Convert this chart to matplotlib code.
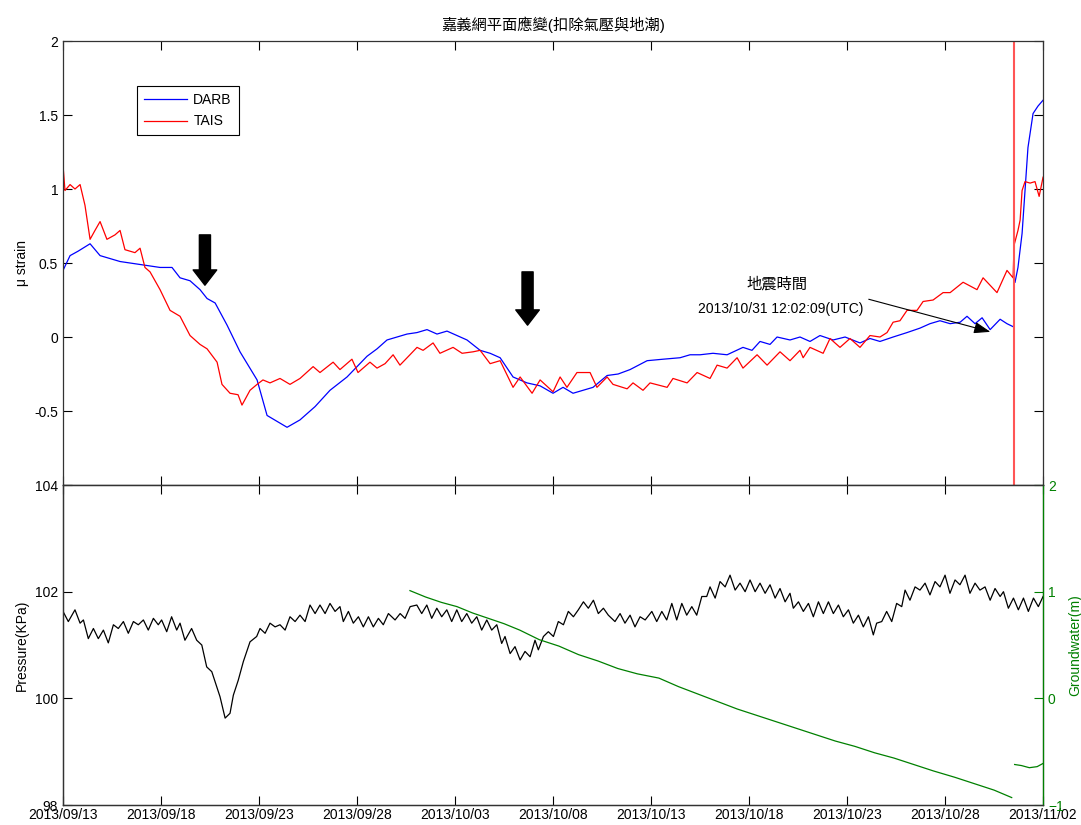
import numpy as np
import matplotlib
matplotlib.use('Agg')
import matplotlib.pyplot as plt
import matplotlib.dates as mdates
from datetime import datetime

plt.rcParams['font.family'] = ['Liberation Sans', 'Noto Sans CJK TC']
plt.rcParams['font.size'] = 10

start = datetime(2013, 9, 13)
quake = datetime(2013, 10, 31, 12, 2, 9)
tick_dates = ['2013/09/13', '2013/09/18', '2013/09/23', '2013/09/28', '2013/10/03',
              '2013/10/08', '2013/10/13', '2013/10/18', '2013/10/23', '2013/10/28',
              '2013/11/02']

# strain, days since 2013/09/13
darb_days = [0, 0.36, 0.77, 1.38, 1.89, 2.40, 2.91, 3.42, 3.93, 4.44, 4.95, 5.56, 5.97,
             6.48, 6.99, 7.35, 7.76, 8.37, 9.03, 9.90, 10.41, 11.43, 12.09, 12.86, 13.62,
             14.49, 15.0, 15.51, 16.02, 16.53, 17.04, 17.55, 18.06, 18.57, 19.08, 19.59,
             20.10, 20.61, 21.28, 21.79, 22.30, 22.96, 23.67, 24.34, 25.0, 25.51, 26.02,
             26.53, 27.04, 27.76, 28.32, 28.93, 29.80, 30.61, 31.48, 31.99, 32.50, 33.16,
             33.88, 34.69, 35.15, 35.56, 36.07, 36.43, 37.09, 37.60, 38.11, 38.62, 39.29,
             39.90, 40.66, 41.17, 41.68, 42.35, 43.06, 43.72, 44.23, 44.74, 45.26, 45.77,
             46.12, 46.53, 46.89, 47.30, 47.81, 48.16, 48.47, 48.52, 48.57, 48.72, 48.93,
             49.08, 49.23, 49.49, 49.74, 50.0]
darb_vals = [0.45, 0.55, 0.58, 0.63, 0.55, 0.53, 0.51, 0.50, 0.49, 0.48, 0.47, 0.47, 0.40,
             0.38, 0.32, 0.26, 0.23, 0.08, -0.10, -0.29, -0.53, -0.61, -0.56, -0.47, -0.36,
             -0.27, -0.20, -0.13, -0.08, -0.02, 0.00, 0.02, 0.03, 0.05, 0.02, 0.04,
             0.01, -0.02, -0.09, -0.11, -0.14, -0.27, -0.31, -0.33, -0.38, -0.34, -0.38,
             -0.36, -0.34, -0.26, -0.25, -0.22, -0.16, -0.15, -0.14, -0.12, -0.12, -0.11,
             -0.12, -0.07, -0.09, -0.03, -0.05, 0.00, -0.02, 0.00, -0.03, 0.01, -0.02,
             0.00, -0.04, -0.01, -0.03, 0.00, 0.03, 0.06, 0.09, 0.11, 0.09, 0.10,
             0.14, 0.09, 0.13, 0.05, 0.12, 0.09, 0.07, np.nan, 0.37, 0.47, 0.70,
             0.99, 1.28, 1.51, 1.56, 1.60]

tais_days = [0, 0.10, 0.36, 0.61, 0.87, 1.12, 1.38, 1.63, 1.89, 2.24, 2.65, 2.91, 3.16,
             3.67, 3.93, 4.18, 4.44, 4.95, 5.46, 5.97, 6.48, 6.99, 7.35, 7.86, 8.11, 8.52,
             8.93, 9.13, 9.54, 9.90, 10.2, 10.56, 11.07, 11.58, 12.09, 12.76, 13.11, 13.78,
             14.13, 14.74, 15.05, 15.66, 16.02, 16.43, 16.84, 17.19, 17.70, 18.06, 18.37,
             18.88, 19.23, 19.90, 20.36, 20.92, 21.28, 21.79, 22.30, 22.96, 23.32, 23.93,
             24.34, 25.0, 25.36, 25.71, 26.22, 26.89, 27.24, 27.76, 28.06, 28.78, 29.08,
             29.59, 29.95, 30.82, 31.12, 31.84, 32.35, 33.01, 33.37, 33.88, 34.39, 34.69,
             35.41, 35.92, 36.58, 37.09, 37.60, 37.76, 38.11, 38.78, 39.13, 39.64, 40.15,
             40.66, 41.17, 41.68, 42.04, 42.35, 42.70, 43.06, 43.57, 43.88, 44.39, 44.90,
             45.26, 45.92, 46.63, 46.94, 47.65, 48.16, 48.47, 48.52, 48.72, 48.83, 48.93,
             49.08, 49.34, 49.59, 49.80, 50.0]
tais_vals = [1.16, 0.99, 1.03, 1.00, 1.03, 0.89, 0.66, 0.72, 0.78, 0.66, 0.69, 0.72, 0.59,
             0.57, 0.60, 0.47, 0.44, 0.32, 0.18, 0.14, 0.01, -0.05, -0.08, -0.17, -0.32, -0.38,
             -0.39, -0.46, -0.36, -0.32, -0.29, -0.31, -0.28, -0.32, -0.28, -0.20, -0.24, -0.17,
             -0.22, -0.15, -0.24, -0.17, -0.21, -0.18, -0.12, -0.19, -0.12, -0.07, -0.09,
             -0.04, -0.11, -0.07, -0.11, -0.10, -0.09, -0.18, -0.16, -0.34, -0.27, -0.38,
             -0.29, -0.37, -0.27, -0.34, -0.24, -0.24, -0.34, -0.27, -0.32, -0.35, -0.31,
             -0.36, -0.31, -0.34, -0.28, -0.31, -0.24, -0.28, -0.19, -0.21, -0.14, -0.21,
             -0.12, -0.19, -0.10, -0.16, -0.09, -0.14, -0.07, -0.11, -0.01, -0.07, -0.01,
             -0.07, 0.01, 0.00, 0.03, 0.10, 0.11, 0.18, 0.18, 0.24, 0.25, 0.30,
             0.30, 0.37, 0.32, 0.40, 0.30, 0.45, 0.40, 0.62, 0.72, 0.79, 0.99,
             1.05, 1.04, 1.05, 0.95, 1.08]

# air pressure (KPa)
pres_days = [0, 0.27, 0.61, 0.87, 1.04, 1.29, 1.55, 1.80, 2.06, 2.31, 2.57, 2.82, 3.08,
             3.33, 3.59, 3.84, 4.10, 4.35, 4.61, 4.86, 5.03, 5.29, 5.54, 5.80, 5.97, 6.22,
             6.56, 6.82, 7.08, 7.33, 7.59, 7.84, 8.01, 8.27, 8.52, 8.69, 8.94, 9.20, 9.54,
             9.88, 10.05, 10.31, 10.56, 10.82, 11.07, 11.33, 11.58, 11.84, 12.09, 12.35,
             12.60, 12.86, 13.11, 13.37, 13.62, 13.88, 14.13, 14.30, 14.56, 14.81, 15.07,
             15.32, 15.58, 15.83, 16.09, 16.34, 16.60, 16.94, 17.20, 17.45, 17.71, 18.05,
             18.30, 18.56, 18.81, 19.07, 19.32, 19.58, 19.83, 20.09, 20.34, 20.60, 20.85,
             21.11, 21.36, 21.62, 21.87, 22.13, 22.38, 22.55, 22.81, 23.06, 23.32, 23.57,
             23.83, 24.08, 24.25, 24.51, 24.76, 25.02, 25.27, 25.53, 25.78, 26.04, 26.29,
             26.55, 26.80, 27.06, 27.31, 27.57, 27.82, 28.16, 28.42, 28.67, 28.93, 29.18,
             29.44, 29.70, 30.04, 30.29, 30.55, 30.80, 31.06, 31.31, 31.57, 31.82, 32.08,
             32.33, 32.59, 32.84, 33.01, 33.27, 33.52, 33.78, 34.03, 34.29, 34.54, 34.80,
             35.05, 35.31, 35.56, 35.82, 36.07, 36.33, 36.58, 36.84, 37.09, 37.26, 37.52,
             37.77, 38.03, 38.28, 38.54, 38.79, 39.05, 39.30, 39.56, 39.81, 40.07, 40.32,
             40.58, 40.83, 41.09, 41.34, 41.51, 41.77, 42.02, 42.28, 42.53, 42.79, 42.96,
             43.21, 43.47, 43.72, 43.98, 44.23, 44.49, 44.74, 45.00, 45.25, 45.51, 45.76,
             46.02, 46.27, 46.53, 46.78, 47.04, 47.30, 47.55, 47.81, 47.98, 48.23, 48.49,
             48.74, 49.00, 49.25, 49.51, 49.76, 50.0]
pres_vals = [101.63, 101.44, 101.66, 101.41, 101.47, 101.12, 101.31, 101.12, 101.28, 101.04,
             101.38, 101.31, 101.44, 101.22, 101.44, 101.38, 101.47, 101.28, 101.50, 101.38,
             101.47, 101.25, 101.53, 101.28, 101.41, 101.09, 101.31, 101.09, 101.00, 100.59,
             100.50, 100.22, 100.03, 99.63, 99.72, 100.06, 100.34, 100.69, 101.06, 101.16,
             101.31, 101.22, 101.41, 101.34, 101.38, 101.28, 101.53, 101.44, 101.56, 101.44,
             101.75, 101.59, 101.75, 101.59, 101.78, 101.63, 101.72, 101.44, 101.63, 101.41,
             101.53, 101.34, 101.53, 101.34, 101.50, 101.38, 101.59, 101.47, 101.59, 101.50,
             101.72, 101.75, 101.59, 101.75, 101.50, 101.69, 101.53, 101.66, 101.44, 101.66,
             101.44, 101.59, 101.41, 101.53, 101.28, 101.47, 101.28, 101.38, 101.03, 101.16,
             100.84, 100.97, 100.72, 100.88, 100.78, 101.09, 100.91, 101.16, 101.25, 101.16,
             101.44, 101.38, 101.63, 101.53, 101.66, 101.81, 101.69, 101.84, 101.59, 101.69,
             101.56, 101.44, 101.59, 101.41, 101.56, 101.34, 101.53, 101.47, 101.63, 101.44,
             101.63, 101.47, 101.78, 101.47, 101.78, 101.56, 101.72, 101.56, 101.91, 101.91,
             102.09, 101.88, 102.19, 102.09, 102.31, 102.03, 102.16, 102.00, 102.22, 102.00,
             102.16, 101.97, 102.13, 101.88, 102.06, 101.81, 101.97, 101.69, 101.81, 101.63,
             101.78, 101.53, 101.81, 101.59, 101.81, 101.59, 101.75, 101.53, 101.66, 101.41,
             101.56, 101.34, 101.53, 101.19, 101.41, 101.44, 101.63, 101.44, 101.78, 101.72,
             102.03, 101.84, 102.09, 102.03, 102.16, 101.94, 102.19, 102.09, 102.31, 101.97,
             102.22, 102.13, 102.31, 101.97, 102.16, 102.03, 102.09, 101.84, 102.06, 101.91,
             102.00, 101.69, 101.88, 101.66, 101.88, 101.63, 101.88, 101.72, 101.91]

# groundwater level (m)
gw_days = [17.7, 18.5, 19.3, 20.1, 20.9, 21.7, 22.5, 23.3, 24.3, 25.3, 26.3, 27.3, 28.3,
           29.3, 30.4, 31.4, 32.4, 33.4, 34.4, 35.4, 36.4, 37.4, 38.4, 39.4, 40.4, 41.4,
           42.4, 43.4, 44.4, 45.5, 46.5, 47.5, 48.4, 48.45, 48.55, 48.9, 49.3, 49.7, 50.0]
gw_vals = [1.01, 0.95, 0.90, 0.86, 0.80, 0.75, 0.70, 0.64, 0.55, 0.49, 0.41, 0.35, 0.28,
           0.23, 0.19, 0.11, 0.04, -0.03, -0.10, -0.16, -0.22, -0.28, -0.34, -0.40, -0.45,
           -0.51, -0.56, -0.62, -0.68, -0.74, -0.80, -0.86, -0.93, np.nan, -0.62, -0.63,
           -0.65, -0.64, -0.61]

t0 = mdates.date2num(start)
ticks = [mdates.date2num(datetime.strptime(s, '%Y/%m/%d')) for s in tick_dates]
x_darb = t0 + np.array(darb_days)
x_tais = t0 + np.array(tais_days)
x_pres = t0 + np.array(pres_days)
x_gw = t0 + np.array(gw_days)
t_quake = mdates.date2num(quake)
xlim = (ticks[0], ticks[-1])

fig = plt.figure(figsize=(10.81, 8.25), dpi=100)
ax1 = fig.add_axes([0.0583, 0.4121, 0.9066, 0.5382])
ax2 = fig.add_axes([0.0583, 0.0242, 0.9066, 0.3879])

tick_kw = dict(direction='in', length=6.5, width=0.8, labelsize=10)

# upper panel: strain
ax1.plot(x_darb, darb_vals, color='#0000ff', lw=0.9, label='DARB')
ax1.plot(x_tais, tais_vals, color='#ff0000', lw=0.9, label='TAIS')
ax1.axvline(t_quake, color='#ff5555', lw=1.5)
ax1.set_xlim(xlim)
ax1.set_ylim(-1, 2)
ax1.set_xticks(ticks)
ax1.set_xticklabels([])
ax1.set_yticks([-1, -0.5, 0, 0.5, 1, 1.5, 2])
ax1.set_yticklabels(['', '-0.5', '0', '0.5', '1', '1.5', '2'])
ax1.tick_params(axis='both', top=True, right=True, **tick_kw)
ax1.set_ylabel('μ strain', fontsize=10, labelpad=4)
ax1.set_title('嘉義網平面應變(扣除氣壓與地潮)', fontsize=11, pad=8)
leg = ax1.legend(loc='upper left', bbox_to_anchor=(0.0755, 0.899), fontsize=10,
                 fancybox=False, edgecolor='k', framealpha=1, handlelength=3.1,
                 handletextpad=0.45, borderpad=0.5, labelspacing=0.55,
                 borderaxespad=0)
leg.get_frame().set_linewidth(0.8)

# thick arrows pointing at the strain changes
for day, top, tip in [(7.24, 0.69, 0.35), (23.7, 0.44, 0.08)]:
    ax1.annotate('', xy=(t0 + day, tip), xytext=(t0 + day, top),
                 arrowprops=dict(width=8, headwidth=17, headlength=11, color='k'))

ax1.annotate('', xy=(t0 + 47.45, 0.03), xytext=(t0 + 40.97, 0.26),
             arrowprops=dict(arrowstyle='-|>,head_width=0.35,head_length=1.0',
                             color='k', lw=0.8))
ax1.text(t0 + 36.45, 0.355, '地震時間', fontsize=11, ha='center', va='center')
ax1.text(t0 + 36.6, 0.19, '2013/10/31 12:02:09(UTC)', fontsize=10, ha='center', va='center')

# lower panel: air pressure and groundwater
ax2.plot(x_pres, pres_vals, color='k', lw=0.9)
ax2.set_xlim(xlim)
ax2.set_ylim(98, 104)
ax2.set_yticks([98, 100, 102, 104])
ax2.set_xticks(ticks)
ax2.set_xticklabels(tick_dates)
ax2.tick_params(axis='x', top=True, pad=2, **tick_kw)
ax2.tick_params(axis='y', **tick_kw)
ax2.set_ylabel('Pressure(KPa)', fontsize=10, labelpad=4)

ax3 = ax2.twinx()
ax3.plot(x_gw, gw_vals, color='#008000', lw=0.9)
ax3.set_xlim(xlim)
ax3.set_ylim(-1, 2)
ax3.set_yticks([-1, 0, 1, 2])
ax3.tick_params(axis='y', colors='#008000', **tick_kw)
ax3.spines['right'].set_color('#008000')
ax3.set_ylabel('Groundwater(m)', color='#008000', fontsize=10, labelpad=3)

for ax in (ax1, ax2, ax3):
    for name, sp in ax.spines.items():
        sp.set_linewidth(0.9)
        if not (ax is ax3 and name == 'right'):
            sp.set_color('#333333')

fig.savefig('out.png', dpi=100)
